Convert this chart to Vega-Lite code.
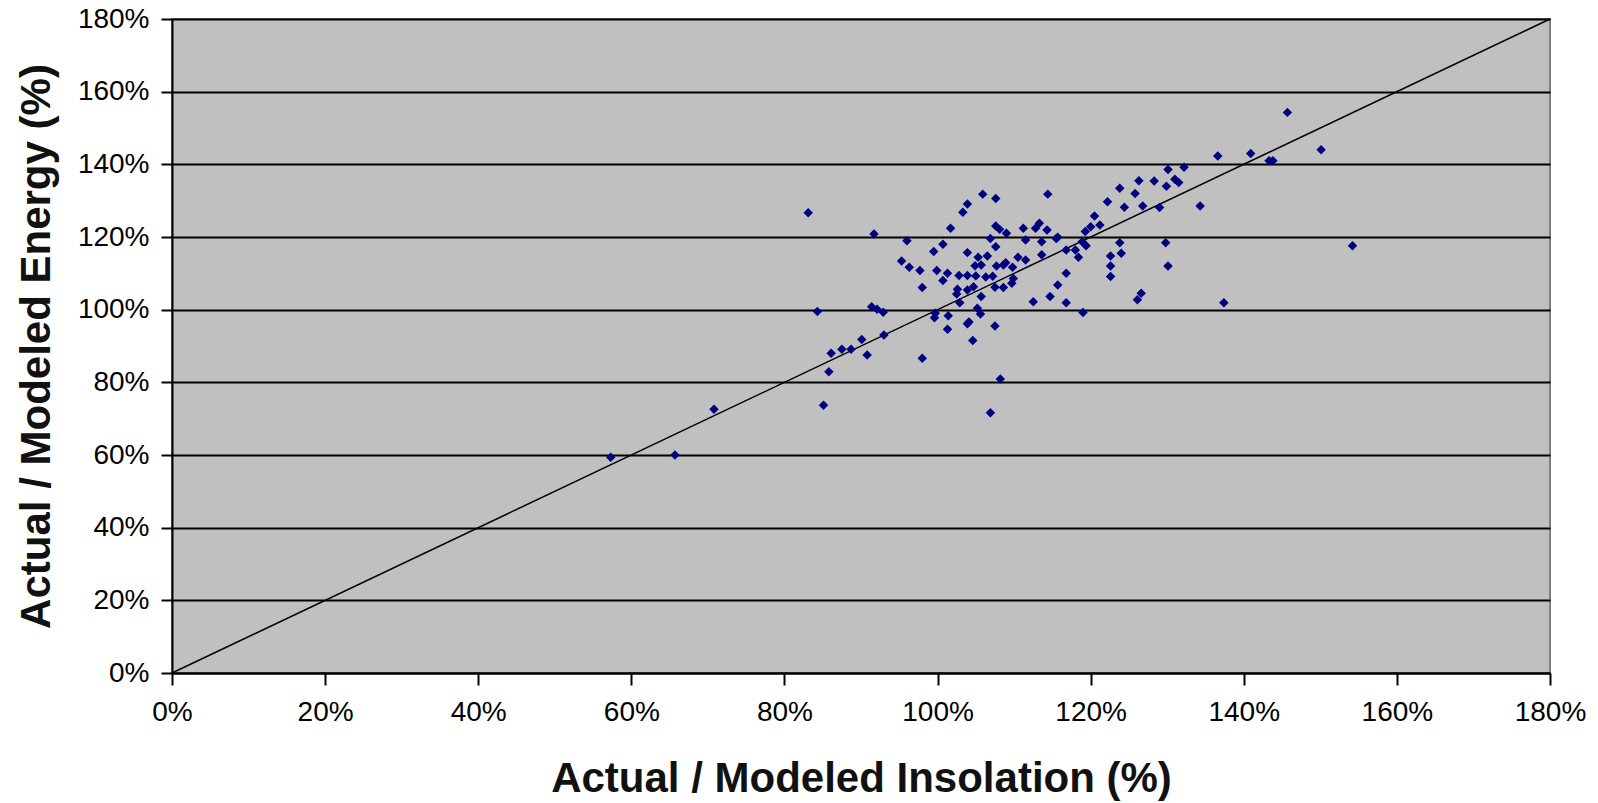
{
  "$schema": "https://vega.github.io/schema/vega-lite/v6.json",
  "autosize": {"type": "none"},
  "width": 1378,
  "height": 654,
  "padding": {"left": 172, "top": 19, "right": 48, "bottom": 130},
  "background": "white",
  "config": {
    "view": {"fill": "#C0C0C0", "stroke": "#808080", "strokeWidth": 2},
    "font": "Liberation Sans"
  },
  "datasets": {
    "pts": [
      {"insolation": 83.1, "energy": 126.7}, {"insolation": 91.7, "energy": 120.8}, {"insolation": 96.0, "energy": 119.0},
      {"insolation": 101.7, "energy": 122.4}, {"insolation": 103.3, "energy": 126.8}, {"insolation": 103.9, "energy": 129.1},
      {"insolation": 105.9, "energy": 131.8}, {"insolation": 107.6, "energy": 130.6}, {"insolation": 114.4, "energy": 131.8},
      {"insolation": 100.7, "energy": 118.0}, {"insolation": 99.5, "energy": 116.0}, {"insolation": 95.3, "energy": 113.4},
      {"insolation": 96.3, "energy": 111.7}, {"insolation": 97.7, "energy": 110.8}, {"insolation": 98.0, "energy": 106.1},
      {"insolation": 99.9, "energy": 110.8}, {"insolation": 100.7, "energy": 108.0}, {"insolation": 101.3, "energy": 110.0},
      {"insolation": 102.8, "energy": 109.4}, {"insolation": 103.9, "energy": 109.4}, {"insolation": 105.0, "energy": 109.3},
      {"insolation": 106.3, "energy": 109.0}, {"insolation": 107.2, "energy": 109.2}, {"insolation": 103.9, "energy": 115.7},
      {"insolation": 105.3, "energy": 114.4}, {"insolation": 106.5, "energy": 114.8}, {"insolation": 104.9, "energy": 112.1},
      {"insolation": 105.7, "energy": 112.3}, {"insolation": 107.7, "energy": 112.0}, {"insolation": 108.6, "energy": 112.3},
      {"insolation": 108.9, "energy": 112.9}, {"insolation": 109.8, "energy": 111.7}, {"insolation": 110.5, "energy": 114.4},
      {"insolation": 111.5, "energy": 113.7}, {"insolation": 113.6, "energy": 115.1}, {"insolation": 109.9, "energy": 108.6},
      {"insolation": 109.7, "energy": 107.3}, {"insolation": 107.5, "energy": 106.2}, {"insolation": 108.6, "energy": 106.1},
      {"insolation": 104.7, "energy": 106.3}, {"insolation": 103.9, "energy": 105.4}, {"insolation": 102.6, "energy": 105.6},
      {"insolation": 102.5, "energy": 104.3}, {"insolation": 102.9, "energy": 101.9}, {"insolation": 105.7, "energy": 103.6},
      {"insolation": 105.2, "energy": 100.4}, {"insolation": 105.6, "energy": 98.8}, {"insolation": 99.7, "energy": 99.0},
      {"insolation": 99.6, "energy": 97.8}, {"insolation": 101.4, "energy": 98.3}, {"insolation": 101.3, "energy": 94.6},
      {"insolation": 103.9, "energy": 96.1}, {"insolation": 104.1, "energy": 96.6}, {"insolation": 104.6, "energy": 91.5},
      {"insolation": 107.5, "energy": 95.5}, {"insolation": 112.5, "energy": 102.2}, {"insolation": 114.7, "energy": 103.6},
      {"insolation": 115.7, "energy": 106.8}, {"insolation": 98.0, "energy": 86.6}, {"insolation": 108.2, "energy": 80.9},
      {"insolation": 106.9, "energy": 71.6}, {"insolation": 85.1, "energy": 73.7}, {"insolation": 84.3, "energy": 99.5},
      {"insolation": 91.4, "energy": 100.8}, {"insolation": 92.1, "energy": 100.1}, {"insolation": 92.9, "energy": 99.3},
      {"insolation": 93.0, "energy": 93.0}, {"insolation": 90.1, "energy": 91.8}, {"insolation": 90.8, "energy": 87.5},
      {"insolation": 86.1, "energy": 88.0}, {"insolation": 87.5, "energy": 89.1}, {"insolation": 88.7, "energy": 89.1},
      {"insolation": 85.8, "energy": 82.9}, {"insolation": 107.6, "energy": 123.0}, {"insolation": 108.1, "energy": 122.1},
      {"insolation": 109.0, "energy": 121.0}, {"insolation": 111.2, "energy": 122.4}, {"insolation": 112.8, "energy": 122.4},
      {"insolation": 113.3, "energy": 123.8}, {"insolation": 114.3, "energy": 121.9}, {"insolation": 115.5, "energy": 119.6},
      {"insolation": 106.9, "energy": 119.6}, {"insolation": 107.6, "energy": 117.3}, {"insolation": 111.5, "energy": 119.2},
      {"insolation": 113.6, "energy": 118.7}, {"insolation": 115.7, "energy": 119.9}, {"insolation": 116.8, "energy": 116.4},
      {"insolation": 118.0, "energy": 116.4}, {"insolation": 118.4, "energy": 114.4}, {"insolation": 119.4, "energy": 117.6},
      {"insolation": 118.9, "energy": 118.7}, {"insolation": 119.3, "energy": 121.5}, {"insolation": 120.0, "energy": 122.8},
      {"insolation": 120.5, "energy": 125.8}, {"insolation": 121.2, "energy": 123.3}, {"insolation": 122.2, "energy": 129.7},
      {"insolation": 123.8, "energy": 133.4}, {"insolation": 124.4, "energy": 128.2}, {"insolation": 125.8, "energy": 132.0},
      {"insolation": 126.3, "energy": 135.5}, {"insolation": 126.8, "energy": 128.5}, {"insolation": 128.3, "energy": 135.4},
      {"insolation": 129.0, "energy": 128.1}, {"insolation": 129.9, "energy": 134.0}, {"insolation": 130.1, "energy": 138.6},
      {"insolation": 131.0, "energy": 135.9}, {"insolation": 131.5, "energy": 135.0}, {"insolation": 132.2, "energy": 139.2},
      {"insolation": 134.3, "energy": 128.5}, {"insolation": 136.6, "energy": 142.3}, {"insolation": 140.9, "energy": 143.0},
      {"insolation": 143.3, "energy": 141.0}, {"insolation": 143.8, "energy": 141.0}, {"insolation": 145.7, "energy": 154.3},
      {"insolation": 150.1, "energy": 144.0}, {"insolation": 154.2, "energy": 117.6}, {"insolation": 137.4, "energy": 101.9},
      {"insolation": 129.8, "energy": 118.4}, {"insolation": 130.1, "energy": 112.0}, {"insolation": 126.6, "energy": 104.5},
      {"insolation": 126.1, "energy": 102.7}, {"insolation": 123.8, "energy": 118.4}, {"insolation": 124.0, "energy": 115.5},
      {"insolation": 122.6, "energy": 114.8}, {"insolation": 122.6, "energy": 112.0}, {"insolation": 122.6, "energy": 109.1},
      {"insolation": 116.8, "energy": 110.0}, {"insolation": 116.8, "energy": 101.9}, {"insolation": 119.0, "energy": 99.2},
      {"insolation": 57.3, "energy": 59.4}, {"insolation": 65.7, "energy": 60.0}, {"insolation": 70.8, "energy": 72.6}
    ],
    "diag": [{"insolation": 0, "energy": 0}, {"insolation": 180, "energy": 180}]
  },
  "encoding": {
    "x": {
      "field": "insolation", "type": "quantitative",
      "scale": {"domain": [0, 180], "nice": false, "zero": false},
      "axis": {
        "title": "Actual / Modeled Insolation (%)",
        "values": [0, 20, 40, 60, 80, 100, 120, 140, 160, 180],
        "labelExpr": "datum.value + '%'",
        "labelFlush": false,
        "grid": false,
        "domainColor": "black", "domainWidth": 2,
        "tickColor": "black", "tickWidth": 2, "tickSize": 12,
        "labelFont": "Liberation Sans", "labelFontSize": 28, "labelColor": "black", "labelPadding": 13,
        "titleFont": "Liberation Sans", "titleFontSize": 42, "titleFontWeight": "bold", "titleColor": "#111111", "titlePadding": 32
      }
    },
    "y": {
      "field": "energy", "type": "quantitative",
      "scale": {"domain": [0, 180], "nice": false, "zero": false},
      "axis": {
        "title": "Actual / Modeled Energy (%)",
        "values": [0, 20, 40, 60, 80, 100, 120, 140, 160, 180],
        "labelExpr": "datum.value + '%'",
        "labelFlush": false,
        "grid": true, "gridColor": "black", "gridWidth": 2, "gridOpacity": 1,
        "domainColor": "black", "domainWidth": 2,
        "tickColor": "black", "tickWidth": 2, "tickSize": 11,
        "labelFont": "Liberation Sans", "labelFontSize": 28, "labelColor": "black", "labelPadding": 12,
        "titleFont": "Liberation Sans", "titleFontSize": 42, "titleFontWeight": "bold", "titleColor": "#111111", "titlePadding": 19
      }
    }
  },
  "layer": [
    {
      "data": {"name": "diag"},
      "mark": {"type": "line", "color": "black", "strokeWidth": 1.5}
    },
    {
      "data": {"name": "pts"},
      "mark": {"type": "point", "shape": "diamond", "filled": true, "color": "#000080", "size": 90, "opacity": 1}
    }
  ]
}
